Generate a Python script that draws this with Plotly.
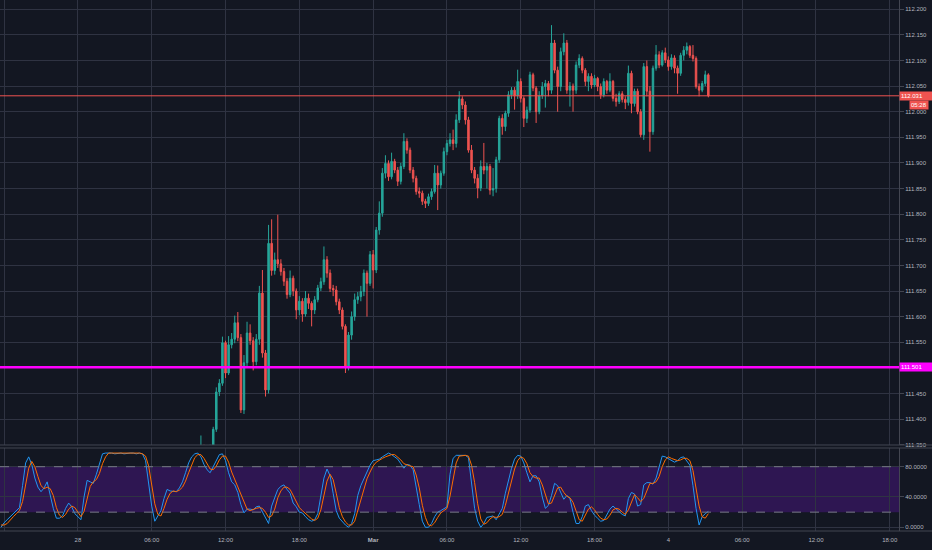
import pandas as pd
import plotly.graph_objects as go
from plotly.subplots import make_subplots

# 15-minute bars (UTC), weekend gap between Friday 22:00 and Sunday 22:00
bar_times = list(pd.date_range("2019-02-27 17:45", "2019-03-01 21:45", freq="15min")) + \
            list(pd.date_range("2019-03-03 22:00", "2019-03-04 03:15", freq="15min"))

opens = [
    111.340, 111.345, 111.330, 111.336, 111.345, 111.380, 111.453, 111.470, 111.549, 111.490,
    111.545, 111.556, 111.588, 111.559, 111.418, 111.510, 111.568, 111.553, 111.512, 111.556,
    111.646, 111.529, 111.457, 111.743, 111.690, 111.711, 111.703, 111.688, 111.669, 111.643,
    111.675, 111.650, 111.613, 111.630, 111.605, 111.636, 111.626, 111.613, 111.633, 111.656,
    111.668, 111.711, 111.685, 111.655, 111.652, 111.629, 111.613, 111.581, 111.503, 111.564,
    111.600, 111.633, 111.639, 111.649, 111.685, 111.665, 111.721, 111.691, 111.769, 111.802,
    111.880, 111.899, 111.873, 111.903, 111.886, 111.864, 111.893, 111.942, 111.925, 111.886,
    111.870, 111.844, 111.841, 111.825, 111.821, 111.834, 111.844, 111.880, 111.857, 111.880,
    111.922, 111.938, 111.945, 111.938, 111.984, 112.025, 112.013, 111.984, 111.925, 111.886,
    111.870, 111.851, 111.893, 111.886, 111.893, 111.847, 111.850, 111.906, 111.987, 111.971,
    111.997, 112.033, 112.042, 112.031, 112.059, 112.026, 111.987, 112.003, 112.072, 112.046,
    112.000, 112.031, 112.049, 112.055, 112.042, 112.134, 112.081, 112.049, 112.117, 112.134,
    112.042, 112.050, 112.042, 112.091, 112.104, 112.081, 112.059, 112.069, 112.052, 112.065,
    112.049, 112.033, 112.059, 112.042, 112.059, 112.026, 112.020, 112.035, 112.024, 112.018,
    112.075, 112.016, 112.040, 112.000, 111.955, 112.088, 112.040, 111.961, 112.085, 112.111,
    112.091, 112.115, 112.101, 112.088, 112.105, 112.085, 112.075, 112.110, 112.120, 112.127,
    112.110, 112.104, 112.049, 112.042, 112.055, 112.072,
]
highs = [
    111.368, 111.350, 111.342, 111.350, 111.385, 111.462, 111.478, 111.561, 111.553, 111.562,
    111.568, 111.602, 111.609, 111.566, 111.525, 111.590, 111.585, 111.560, 111.566, 111.660,
    111.691, 111.535, 111.779, 111.790, 111.725, 111.799, 111.712, 111.695, 111.675, 111.690,
    111.680, 111.655, 111.640, 111.636, 111.650, 111.645, 111.630, 111.640, 111.662, 111.676,
    111.737, 111.718, 111.692, 111.662, 111.660, 111.635, 111.618, 111.585, 111.570, 111.610,
    111.645, 111.648, 111.660, 111.692, 111.690, 111.728, 111.730, 111.775, 111.825, 111.890,
    111.915, 111.905, 111.920, 111.908, 111.892, 111.900, 111.958, 111.948, 111.930, 111.892,
    111.875, 111.852, 111.846, 111.830, 111.840, 111.850, 111.896, 111.895, 111.885, 111.930,
    111.945, 111.958, 111.965, 111.995, 112.040, 112.030, 112.020, 111.990, 111.935, 111.892,
    111.878, 111.905, 111.939, 111.900, 111.898, 111.890, 111.912, 111.992, 111.995, 112.002,
    112.040, 112.048, 112.048, 112.082, 112.065, 112.030, 112.010, 112.078, 112.076, 112.050,
    112.040, 112.058, 112.062, 112.060, 112.169, 112.140, 112.088, 112.125, 112.153, 112.140,
    112.058, 112.055, 112.098, 112.112, 112.108, 112.085, 112.075, 112.075, 112.072, 112.068,
    112.055, 112.065, 112.062, 112.075, 112.062, 112.035, 112.040, 112.040, 112.030, 112.090,
    112.080, 112.045, 112.045, 112.005, 112.095, 112.100, 112.050, 112.090, 112.130, 112.118,
    112.120, 112.125, 112.108, 112.112, 112.110, 112.090, 112.115, 112.128, 112.135, 112.130,
    112.130, 112.108, 112.055, 112.060, 112.080, 112.075,
]
lows = [
    111.330, 111.322, 111.318, 111.328, 111.340, 111.375, 111.445, 111.465, 111.480, 111.486,
    111.538, 111.548, 111.552, 111.412, 111.410, 111.500, 111.545, 111.495, 111.505, 111.545,
    111.520, 111.444, 111.450, 111.680, 111.682, 111.695, 111.680, 111.660, 111.635, 111.638,
    111.640, 111.595, 111.603, 111.590, 111.600, 111.615, 111.581, 111.605, 111.628, 111.650,
    111.662, 111.676, 111.648, 111.640, 111.622, 111.605, 111.575, 111.490, 111.495, 111.555,
    111.592, 111.625, 111.630, 111.640, 111.600, 111.660, 111.655, 111.685, 111.760, 111.795,
    111.870, 111.865, 111.868, 111.880, 111.855, 111.858, 111.888, 111.918, 111.880, 111.862,
    111.838, 111.832, 111.818, 111.812, 111.816, 111.828, 111.840, 111.808, 111.850, 111.875,
    111.915, 111.932, 111.925, 111.930, 111.978, 112.005, 111.975, 111.920, 111.880, 111.860,
    111.831, 111.845, 111.878, 111.850, 111.838, 111.835, 111.842, 111.900, 111.955, 111.962,
    111.990, 112.025, 112.004, 112.025, 112.018, 111.970, 111.978, 111.998, 112.040, 111.978,
    111.995, 112.025, 112.008, 112.030, 112.035, 112.075, 112.000, 112.040, 112.110, 112.035,
    112.010, 112.000, 112.035, 112.085, 112.075, 112.050, 112.040, 112.045, 112.048, 112.040,
    112.025, 112.028, 112.035, 112.038, 112.020, 112.010, 112.015, 112.018, 112.005, 112.012,
    111.997, 112.010, 111.995, 111.950, 111.945, 112.030, 111.922, 111.955, 112.080, 112.085,
    112.088, 112.095, 112.080, 112.082, 112.075, 112.035, 112.070, 112.100, 112.112, 112.105,
    112.098, 112.045, 112.030, 112.038, 112.050, 112.028,
]
closes = [
    111.345, 111.330, 111.336, 111.345, 111.380, 111.453, 111.470, 111.549, 111.490, 111.545,
    111.556, 111.588, 111.559, 111.418, 111.510, 111.568, 111.553, 111.512, 111.556, 111.646,
    111.529, 111.457, 111.743, 111.690, 111.711, 111.703, 111.688, 111.669, 111.643, 111.675,
    111.650, 111.613, 111.630, 111.605, 111.636, 111.626, 111.613, 111.633, 111.656, 111.668,
    111.711, 111.685, 111.655, 111.652, 111.629, 111.613, 111.581, 111.503, 111.564, 111.600,
    111.633, 111.639, 111.649, 111.685, 111.665, 111.721, 111.691, 111.769, 111.802, 111.880,
    111.899, 111.873, 111.903, 111.886, 111.864, 111.893, 111.942, 111.925, 111.886, 111.870,
    111.844, 111.841, 111.825, 111.821, 111.834, 111.844, 111.880, 111.857, 111.880, 111.922,
    111.938, 111.945, 111.938, 111.984, 112.025, 112.013, 111.984, 111.925, 111.886, 111.870,
    111.851, 111.893, 111.886, 111.893, 111.847, 111.850, 111.906, 111.987, 111.971, 111.997,
    112.033, 112.042, 112.031, 112.059, 112.026, 111.987, 112.003, 112.072, 112.046, 112.000,
    112.031, 112.049, 112.055, 112.042, 112.134, 112.081, 112.049, 112.117, 112.134, 112.042,
    112.050, 112.042, 112.091, 112.104, 112.081, 112.059, 112.069, 112.052, 112.065, 112.049,
    112.033, 112.059, 112.042, 112.059, 112.026, 112.020, 112.035, 112.024, 112.018, 112.075,
    112.016, 112.040, 112.000, 111.955, 112.088, 112.040, 111.961, 112.085, 112.111, 112.091,
    112.115, 112.101, 112.088, 112.105, 112.085, 112.075, 112.110, 112.120, 112.127, 112.110,
    112.104, 112.049, 112.042, 112.055, 112.072, 112.031,
]

# stochastic %K / %D, one value per bar from the first bar on screen
stoch_k = [
    0, 6, 10, 14, 18, 21, 26, 55, 85, 93,
    83, 65, 53, 47, 52, 60, 42, 25, 12, 12,
    15, 25, 32, 27, 18, 14, 10, 40, 62, 60,
    58, 70, 85, 97, 98, 98, 98, 97, 98, 98,
    97, 98, 98, 98, 97, 98, 97, 88, 57, 28,
    8, 16, 22, 38, 50, 48, 47, 47, 52, 60,
    72, 85, 93, 97, 98, 93, 83, 76, 72, 80,
    90, 96, 97, 88, 72, 60, 56, 46, 30, 19,
    24, 24, 23, 27, 28, 20, 13, 5, 28, 40,
    50, 54, 56, 50, 45, 32, 27, 20, 19, 14,
    10, 8, 10, 18, 42, 65, 77, 68, 45, 22,
    12, 7, 3, 0, 5, 18, 42, 55, 63, 73,
    82, 88, 89, 90, 93, 95, 98, 96, 93, 90,
    84, 78, 83, 82, 76, 50, 30, 8, 0, 0,
    5, 14, 20, 22, 25, 27, 70, 91, 95, 95,
    95, 95, 92, 60, 25, 8, 0, 5, 13, 14,
    15, 10, 17, 25, 45, 62, 78, 90, 95, 94,
    85, 72, 60, 68, 68, 60, 40, 25, 29, 42,
    58, 55, 45, 37, 42, 38, 20, 5, 5, 14,
    28, 30, 22, 16, 12, 8, 9, 16, 24, 28,
    24, 20, 17, 15, 38, 46, 44, 28, 30, 56,
    59, 59, 57, 65, 80, 94, 93, 91, 89, 86,
    88, 92, 93, 88, 82, 55, 25, 3, 14, 18,
    21,
]
stoch_d = [
    3, 3, 5, 10, 14, 18, 22, 34, 55, 78,
    87, 80, 67, 55, 51, 53, 51, 42, 26, 16,
    13, 17, 24, 28, 26, 20, 14, 21, 37, 54,
    60, 63, 71, 84, 93, 98, 98, 98, 98, 98,
    98, 98, 98, 98, 98, 98, 97, 94, 81, 58,
    31, 17, 15, 25, 37, 45, 48, 47, 49, 53,
    61, 72, 83, 92, 96, 96, 91, 84, 77, 76,
    81, 89, 94, 94, 86, 73, 63, 54, 44, 32,
    24, 22, 24, 25, 26, 25, 20, 13, 15, 24,
    39, 48, 53, 53, 50, 42, 35, 26, 22, 18,
    14, 11, 9, 12, 23, 42, 61, 70, 63, 45,
    26, 14, 7, 3, 3, 8, 22, 38, 53, 64,
    73, 81, 86, 89, 91, 93, 95, 96, 96, 93,
    89, 84, 82, 81, 80, 69, 52, 29, 13, 3,
    2, 6, 13, 19, 22, 25, 41, 63, 85, 94,
    95, 95, 94, 82, 59, 31, 11, 4, 6, 11,
    14, 13, 14, 17, 29, 44, 62, 77, 88, 93,
    91, 84, 72, 67, 65, 65, 56, 42, 31, 32,
    43, 52, 53, 46, 41, 39, 33, 21, 10, 8,
    16, 24, 27, 23, 17, 12, 10, 11, 16, 23,
    25, 24, 20, 17, 23, 33, 43, 39, 34, 38,
    48, 58, 58, 60, 67, 80, 89, 93, 91, 89,
    88, 89, 91, 91, 88, 75, 54, 28, 14, 12,
    18,
]

tick_times = ["2019-02-27 18:00", "2019-02-28 00:00", "2019-02-28 06:00", "2019-02-28 12:00",
              "2019-02-28 18:00", "2019-03-01 00:00", "2019-03-01 06:00", "2019-03-01 12:00",
              "2019-03-01 18:00", "2019-03-04 00:00", "2019-03-04 06:00", "2019-03-04 12:00",
              "2019-03-04 18:00"]
tick_labels = ["18:00", "28", "06:00", "12:00", "18:00", "<b>Mar</b>", "06:00", "12:00",
               "18:00", "4", "06:00", "12:00", "18:00"]

# price scale labels (111.500 sits under the level marker)
price_ticks = [111.35, 111.40, 111.45, 111.55, 111.60, 111.65, 111.70, 111.75, 111.80,
               111.85, 111.90, 111.95, 112.00, 112.05, 112.10, 112.15, 112.20]

support_level = 111.501
last_price = 112.031
countdown = "05:28"

assert len(bar_times) == len(stoch_k) == len(stoch_d)
candle_times = bar_times[len(bar_times) - len(closes):]

BG = "#131722"
GRID = "#2f3342"
TXT = "#b2b5be"
UP = "#26a69a"
DOWN = "#ef5350"
FONT = "Liberation Sans, Arial, sans-serif"

fig = make_subplots(rows=2, cols=1, shared_xaxes=True)

fig.add_trace(go.Candlestick(
    x=candle_times, open=opens, high=highs, low=lows, close=closes,
    increasing=dict(line=dict(color=UP, width=1), fillcolor=UP),
    decreasing=dict(line=dict(color=DOWN, width=1), fillcolor=DOWN),
    whiskerwidth=0, showlegend=False, hoverinfo="skip"
), row=1, col=1)

fig.add_trace(go.Scatter(x=bar_times, y=stoch_k, mode="lines",
                         line=dict(color="#2196f3", width=1), showlegend=False), row=2, col=1)
fig.add_trace(go.Scatter(x=bar_times, y=stoch_d, mode="lines",
                         line=dict(color="#ff6d00", width=1), showlegend=False), row=2, col=1)

# stochastic band 20..80
fig.add_shape(type="rect", xref="x2 domain", yref="y2", x0=0, x1=1, y0=20, y1=80,
              fillcolor="#2e1652", line_width=0, layer="below")
for lvl in [20, 80]:
    fig.add_shape(type="line", xref="x2 domain", yref="y2", x0=0, x1=1, y0=lvl, y1=lvl,
                  line=dict(color="#787b86", width=1, dash="dash"))

# horizontal levels on price
fig.add_shape(type="line", xref="x domain", yref="y", x0=0, x1=1, y0=last_price, y1=last_price,
              line=dict(color=DOWN, width=1))
fig.add_shape(type="line", xref="x domain", yref="y", x0=0, x1=1, y0=support_level, y1=support_level,
              line=dict(color="#ff00ff", width=2.5))

# pane separators and bottom border across the full width
for py in [0.1620, 0.1563, 0.0]:
    fig.add_shape(type="line", xref="paper", yref="paper", x0=0, x1=1.04, y0=py, y1=py,
                  line=dict(color="#434651", width=1))

# price scale labels
fig.add_annotation(xref="paper", yref="y", x=1, y=last_price, xanchor="left", yanchor="middle",
                   text=f"{last_price:.3f}", showarrow=False, bgcolor=DOWN, width=30, align="left",
                   font=dict(color="white", size=6, family=FONT), borderpad=1)
fig.add_annotation(xref="paper", yref="y", x=1, y=last_price, xanchor="left", yanchor="middle",
                   xshift=10, yshift=-9, text=countdown, showarrow=False, bgcolor=DOWN,
                   font=dict(color="white", size=6, family=FONT), borderpad=1)
fig.add_annotation(xref="paper", yref="y", x=1, y=support_level, xanchor="left", yanchor="middle",
                   text=f"{support_level:.3f}", showarrow=False, bgcolor="#ff00ff", width=30, align="left",
                   font=dict(color="white", size=6, family=FONT), borderpad=1)

fig.update_xaxes(type="date", range=["2019-02-27 17:40", "2019-03-04 18:45"],
                 rangebreaks=[dict(bounds=["2019-03-01 22:00", "2019-03-03 22:00"])],
                 tickvals=tick_times, ticktext=tick_labels, showgrid=True, gridcolor=GRID,
                 gridwidth=1, zeroline=False, showline=False, ticks="", ticklabelstandoff=4,
                 tickfont=dict(color=TXT, size=6, family=FONT), rangeslider_visible=False)
fig.update_xaxes(showticklabels=False, row=1, col=1)

fig.update_yaxes(side="right", range=[111.3495, 112.218], tickvals=price_ticks,
                 tickformat=".3f", showgrid=True, gridcolor=GRID, zeroline=False,
                 showline=True, linecolor="#434651", ticks="outside", ticklen=4, tickcolor="#434651",
                 tickfont=dict(color=TXT, size=6, family=FONT), domain=[0.1620, 1.0], row=1, col=1)
fig.update_yaxes(side="right", range=[-4.9, 104.7], tickvals=[0, 40, 80],
                 ticktext=["0.0000", "40.0000", "80.0000"], showgrid=True, gridcolor=GRID,
                 zeroline=False, showline=True, linecolor="#434651", ticks="outside", ticklen=4,
                 tickcolor="#434651", tickfont=dict(color=TXT, size=6, family=FONT),
                 domain=[0.0, 0.1563], row=2, col=1)

fig.update_layout(width=932, height=550, margin=dict(l=0, r=33, t=0, b=19),
                  paper_bgcolor=BG, plot_bgcolor=BG, showlegend=False,
                  font=dict(family=FONT, color=TXT, size=6), hovermode=False)

# remove the default page margin so the figure fills the window
fig.write_html("out.html", config={"displayModeBar": False},
               post_script="document.body.style.margin='0';document.body.style.background='#131722';")
